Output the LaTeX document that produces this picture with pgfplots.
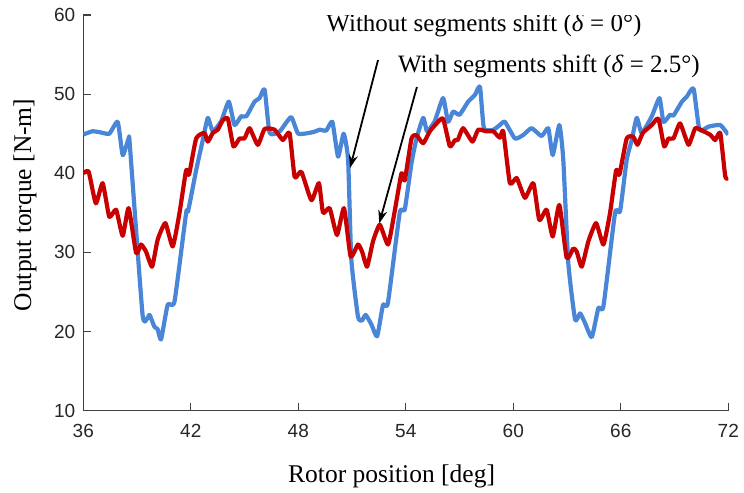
\documentclass[border=0pt]{standalone}
\usepackage{fontspec}
\setmainfont{Liberation Serif}
\newfontfamily\tickfont{Liberation Sans}
\usepackage{pgfplots}
\pgfplotsset{compat=1.18}
\usetikzlibrary{arrows.meta}
\definecolor{cblue}{RGB}{74,134,216}
\definecolor{cred}{RGB}{200,0,0}
\definecolor{axgray}{RGB}{64,64,64}
\begin{document}
\begin{tikzpicture}
\useasboundingbox (-83.3bp,-82.3bp) rectangle (660.7bp,410.7bp);
\begin{axis}[
  at={(0,0)}, anchor=south west,
  scale only axis, width=645bp, height=395.7bp,
  xmin=36, xmax=72, ymin=10, ymax=60,
  xtick={36,42,48,54,60,66,72}, ytick={10,20,30,40,50,60},
  axis x line*=bottom, axis y line*=left,
  tick align=inside, major tick length=7.5bp,
  axis line style={axgray, line width=1.2bp},
  tick style={axgray, line width=1.2bp},
  ticklabel style={font=\tickfont\fontsize{19bp}{22bp}\selectfont, text=black!85},
  /pgf/number format/assume math mode=true,
  yticklabel style={xshift=-4.5bp},
  xticklabel style={yshift=-10.5bp},
  xlabel={Rotor position [deg]},
  ylabel={Output torque [N-m]},
  label style={font=\fontsize{25.5bp}{30bp}\selectfont},
  xlabel style={at={(axis description cs:0.478,-0.1807)}, anchor=base},
  ylabel style={at={(axis description cs:-0.0807,0.52)}, anchor=base},
]
\addplot[cblue, line width=4.2bp, line join=round, smooth, tension=0.3] coordinates {
(36.0,44.9) (36.5,45.3) (36.9,45.2) (37.45,45.0) (37.92,46.5) (38.2,42.3) (38.53,44.4)
(38.6,43.5) (39.3,22.3) (39.55,21.6) (39.7,22.1) (39.97,20.6) (40.15,20.3) (40.34,19.0)
(40.71,23.4) (41.09,23.8) (41.74,35.0) (41.85,35.2) (42.3,40.4) (42.67,44.2) (42.95,47.0)
(43.23,45.3) (43.7,46.6) (44.12,49.05) (44.44,46.1) (44.81,47.2) (45.1,47.2) (45.56,49.05)
(45.84,49.5) (46.12,50.6) (46.4,45.1) (46.96,45.3) (47.6,47.1) (48.0,45.0) (48.82,45.2)
(49.19,45.5) (49.56,45.4) (49.9,46.5) (50.22,42.1) (50.53,45.0) (50.78,41.7) (50.96,29.1)
(51.33,21.9) (51.55,21.4) (51.76,22.1) (52.08,20.9) (52.4,19.4) (52.73,23.4) (53.0,23.6)
(53.66,35.0) (53.94,35.4) (54.32,41.3) (54.6,44.4) (54.97,47.0) (55.19,45.3) (55.62,46.6)
(56.08,49.5) (56.36,46.5) (56.64,47.8) (57.0,47.4) (57.48,49.05) (57.86,49.9) (58.14,50.95)
(58.36,45.7) (58.88,45.5) (59.25,46.1) (59.53,46.5) (60.09,44.4) (60.56,44.85) (61.02,45.7)
(61.58,44.7) (61.95,45.7) (62.2,42.3) (62.57,46.1) (62.79,41.7) (63.07,28.65) (63.45,21.5)
(63.73,22.3) (64.0,21.1) (64.38,19.3) (64.75,23.0) (65.03,23.2) (65.68,35.0) (65.96,35.2)
(66.33,41.7) (66.61,44.2) (66.89,47.0) (67.17,45.1) (67.73,47.2) (68.16,49.5) (68.38,46.5)
(68.75,47.4) (68.94,47.3) (69.41,49.05) (69.69,49.7) (70.06,50.7) (70.39,45.5) (70.9,45.9)
(71.55,46.1) (71.92,45.1) (72.0,44.9)
};
\addplot[cred, line width=4.2bp, line join=round, smooth, tension=0.3] coordinates {
(36.0,40.0) (36.3,40.2) (36.7,36.2) (37.08,38.75) (37.45,34.5) (37.83,35.4) (38.2,32.1)
(38.53,35.6) (38.95,29.9) (39.22,31.0) (39.5,30.1) (39.84,28.2) (40.15,31.6) (40.58,33.7)
(40.99,30.75) (41.37,35.0) (41.74,40.4) (41.9,39.8) (42.3,44.4) (42.76,45.1) (42.95,44.0)
(43.23,45.1) (43.5,45.5) (43.79,46.7) (44.07,46.9) (44.38,43.4) (44.72,44.4) (45.0,44.4)
(45.28,45.7) (45.74,43.6) (46.12,45.6) (46.68,45.5) (47.14,44.2) (47.51,45.1) (47.8,39.5)
(48.17,40.2) (48.73,36.6) (49.15,38.75) (49.38,35.0) (49.75,35.6) (50.16,32.2) (50.55,35.6)
(50.92,29.5) (51.33,31.0) (51.56,30.1) (51.84,28.2) (52.17,31.4) (52.55,33.5) (53.01,31.0)
(53.38,35.2) (53.76,40.0) (53.94,39.1) (54.32,44.4) (54.6,44.8) (54.97,43.8) (55.34,45.3)
(55.72,46.3) (56.08,46.9) (56.46,43.4) (56.74,44.2) (56.9,44.2) (57.2,45.7) (57.72,44.0)
(58.04,45.5) (58.5,45.3) (58.88,45.3) (59.25,44.5) (59.44,45.3) (59.81,38.75) (60.19,39.4)
(60.65,36.9) (61.12,38.75) (61.45,34.1) (61.86,35.4) (62.2,32.0) (62.57,36.0) (62.98,29.3)
(63.35,30.5) (63.54,30.1) (63.82,28.2) (64.19,31.4) (64.62,33.7) (65.03,31.0) (65.4,35.0)
(65.74,40.4) (65.92,39.8) (66.33,44.4) (66.7,44.6) (66.93,43.6) (67.23,45.1) (67.73,46.1)
(68.1,46.9) (68.42,43.4) (68.66,44.4) (68.94,44.4) (69.31,46.3) (69.78,43.6) (70.16,45.7)
(70.62,45.3) (71.0,44.85) (71.27,44.2) (71.55,45.1) (71.83,39.6) (72.0,39.4)
};
\node[font=\fontsize{25bp}{30bp}\selectfont, anchor=base] at (axis cs:58.36,57.89) {Without segments shift (\textit{δ} = 0°)};
\node[font=\fontsize{25bp}{30bp}\selectfont, anchor=base] at (axis cs:61.99,52.71) {With segments shift (\textit{δ} = 2.5°)};
\draw[-{Stealth[length=13bp,width=9bp]}, line width=1.8bp] (axis cs:52.45,54.31) -- (axis cs:50.89,40.67);
\draw[-{Stealth[length=13bp,width=9bp]}, line width=1.8bp] (axis cs:54.62,50.9) -- (axis cs:52.52,33.68);
\end{axis}
\end{tikzpicture}
\end{document}
